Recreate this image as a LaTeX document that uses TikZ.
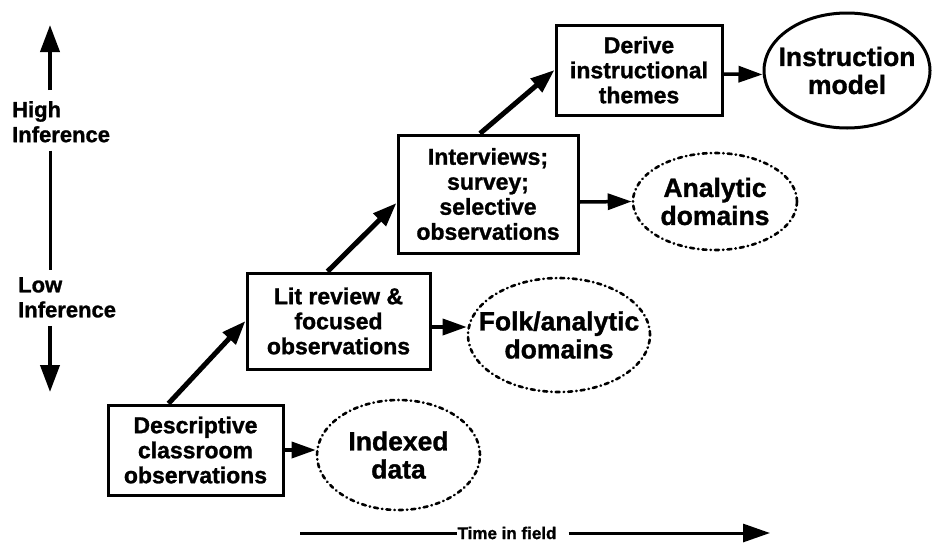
\documentclass[tikz,border=0pt]{standalone}
\usepackage{fontspec}
\setmainfont{Liberation Sans}[BoldFeatures={FakeBold=1.2}]
\usetikzlibrary{arrows.meta,shapes.geometric,calc}
\begin{document}
\begin{tikzpicture}[x=1pt,y=-1pt,
  boxtext/.style={font=\bfseries\fontsize{23}{25}\selectfont},
  stepbox/.style={draw, line width=3pt, align=center, inner sep=0pt, boxtext},
  elltext/.style={align=center, inner sep=0pt, font=\bfseries\fontsize{26.5}{28}\selectfont},
  dotell/.style={draw, ellipse, inner sep=0pt, line width=2.6pt, line cap=round,
     dash pattern=on 4pt off 4pt on 0.5pt off 4pt},
  solidell/.style={draw, ellipse, inner sep=0pt, line width=3pt},
  diagarrow/.style={line width=5pt, -{Triangle[length=24pt,width=17pt]}},
  harrow/.style={line width=3.5pt, -{Triangle[length=24pt,width=16pt]}},
  axisarrow/.style={line width=4pt, -{Triangle[length=27pt,width=19pt]}},
  axistext/.style={align=left, inner sep=0pt, anchor=north west,
     font=\bfseries\fontsize{22}{25}\selectfont},
]
\useasboundingbox (0,0) rectangle (933,552);

% boxes
\node[stepbox, minimum width=175pt, minimum height=90pt] (desc) at (195.5,450)
  {Descriptive\\classroom\\observations};
\node[stepbox, minimum width=183pt, minimum height=96pt] (lit) at (338.5,321)
  {Lit review \&\\focused\\observations};
\node[stepbox, minimum width=180pt, minimum height=118pt] (int) at (488,194)
  {Interviews;\\survey;\\selective\\observations};
\node[stepbox, minimum width=166pt, minimum height=90pt] (der) at (639,70)
  {Derive\\instructional\\themes};

% ellipses
\node[dotell, minimum width=163pt, minimum height=110pt] (idx) at (398.5,455) {};
\node[elltext] (idxt) at (idx) {Indexed\\data};
\node[dotell, minimum width=182pt, minimum height=114pt] (folk) at (559,335) {};
\node[elltext] (folkt) at (folk) {Folk/analytic\\domains};
\node[dotell, minimum width=164pt, minimum height=97pt] (ana) at (715,201.5) {};
\node[elltext] (anat) at (ana) {Analytic\\domains};
\node[solidell, minimum width=166pt, minimum height=115pt] (inst) at (847,70.5) {};
\node[elltext] (instt) at (inst) {Instruction\\model};

% diagonal arrows
\draw[diagarrow] ([xshift=-27pt]desc.north) -- (lit.west);
\draw[diagarrow] ([xshift=-11pt]lit.north) -- ([yshift=-9pt]int.west);
\draw[diagarrow] ([xshift=-8pt]int.north) -- (der.west);

% horizontal arrows
\draw[harrow] (desc.east) -- (desc.east -| idx.west);
\draw[harrow] ([yshift=-6pt]lit.east) -- ([yshift=8pt]folk.west);
\draw[harrow] ([yshift=-8pt]int.east) -- (ana.west);
\draw[harrow] ([yshift=-4pt]der.east) -- ([yshift=-4pt]inst.west);

% inference axis
\coordinate (uptip) at (50,25);
\coordinate (downtip) at (50,392);
\node[axistext] (high) at (12,101) {High\\Inference};
\node[axistext] (low) at (18,277) {Low\\Inference};
\draw[axisarrow] (50,90) -- (uptip);
\draw[line width=3pt] ($(high.south -| uptip)+(0,8)$) -- ($(low.north -| uptip)+(0,-7)$);
\draw[axisarrow] ($(low.south -| downtip)+(0,8)$) -- (downtip);

% time axis
\node[inner sep=0pt, font=\bfseries\fontsize{17}{19}\selectfont] (time) at (507,533) {Time in field};
\coordinate (tstart) at (300,533);
\coordinate (tend) at (770,533);
\draw[line width=3pt] (tstart) -- (time.west);
\draw[line width=3pt, -{Triangle[length=27pt,width=18pt]}] ([xshift=12pt]time.east) -- (tend);
\end{tikzpicture}
\end{document}
